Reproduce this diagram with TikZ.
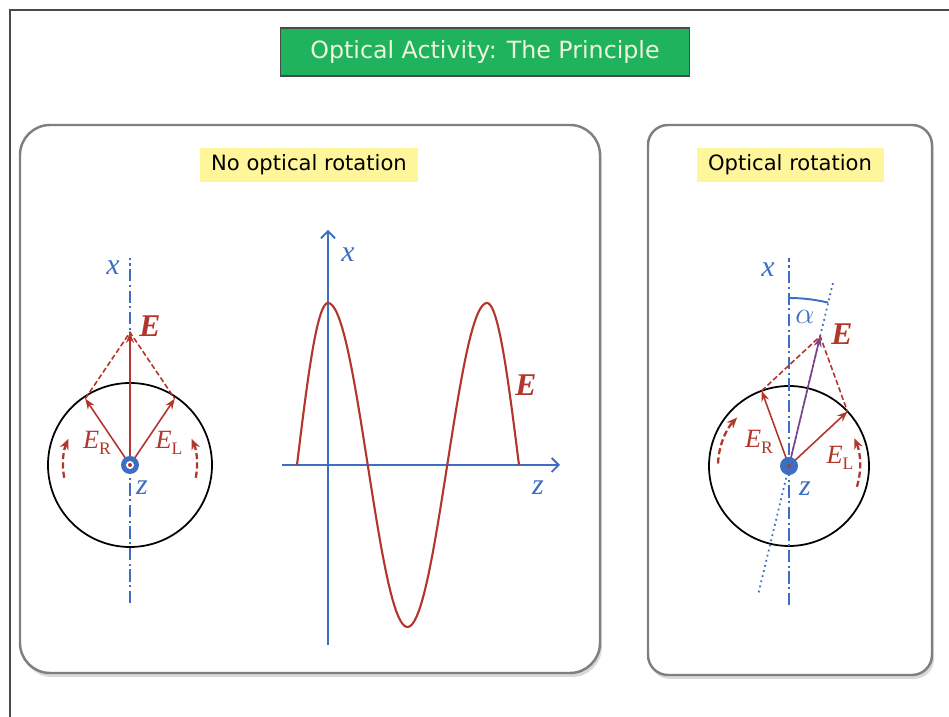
\documentclass[tikz,border=0pt]{standalone}
\usepackage{fontspec}
\setmainfont{DejaVu Sans}
\newfontfamily\symfont{Liberation Serif}
\usetikzlibrary{arrows.meta,calc}
\definecolor{OptGreen}{HTML}{1EB35C}
\definecolor{OptCream}{HTML}{EEF4DC}
\definecolor{OptDark}{HTML}{4A4A4A}
\definecolor{OptGray}{HTML}{7F7F7F}
\definecolor{OptYellow}{HTML}{FFF59A}
\definecolor{OptRed}{HTML}{B2362C}
\definecolor{OptBlue}{HTML}{3C6EC4}
\definecolor{OptPurple}{HTML}{7B3F8C}
\newcommand{\compsub}[2]{\textit{#1}\raisebox{-0.45ex}{\fontsize{10}{10}\selectfont #2}}

\begin{document}
\begin{tikzpicture}[x=0.2mm, y=0.2mm,
  panel/.style={draw=OptGray, fill=white, line width=1.4pt, rounded corners=#1},
  tag/.style={fill=OptYellow, inner sep=0pt, minimum height=6.8mm,
              font=\fontsize{12}{14}\selectfont},
  axis/.style={draw=OptBlue, line width=1.1pt, -{Straight Barb[length=4pt,width=8pt]}},
  beam/.style={draw=OptBlue, line width=1pt, dash pattern=on 7pt off 2pt on 1.2pt off 2pt},
  tilt/.style={draw=OptBlue, line width=1pt, dotted},
  vec/.style={draw=OptRed, line width=0.9pt, -{Stealth[length=6pt,width=4.5pt]}},
  sumline/.style={draw=OptRed, line width=0.9pt, dash pattern=on 3pt off 1.5pt},
  spin/.style={draw=OptRed, line width=1.3pt, dash pattern=on 3.5pt off 1.8pt,
               -{Stealth[length=6pt,width=5pt]}},
  wave/.style={draw=OptRed, line width=1.2pt},
  sym/.style={text=OptBlue, font=\symfont\itshape\fontsize{17}{17}\selectfont, inner sep=0pt},
  field/.style={text=OptRed, font=\symfont\bfseries\itshape\fontsize{18}{18}\selectfont, inner sep=0pt},
  comp/.style={text=OptRed, font=\symfont\fontsize{15}{15}\selectfont, inner sep=0pt}]
\useasboundingbox (0,0) rectangle (949,717);
%% page frame, cut at the right and bottom
\draw[OptDark, line width=0.8pt] (10,0) -- (10,707) -- (949,707);
\node[draw=OptDark, line width=1pt, fill=OptGreen, text=OptCream, minimum width=81.8mm,
      minimum height=9.6mm, font=\fontsize{13.5}{15}\selectfont] (title) at (485,665)
      {Optical Activity: The Principle};
%% panels with a soft shadow
\fill[black!15, rounded corners=6mm] (22,40) rectangle (602,588);
\draw[panel=6mm] (20,44) rectangle (600,592);
\fill[black!15, rounded corners=4mm] (650,38) rectangle (934,588);
\draw[panel=4mm] (648,42) rectangle (932,592);
\node[tag, minimum width=43.6mm] (lblNo)  at (309,552) {No optical rotation};
\node[tag, minimum width=37.4mm] (lblRot) at (790,552) {Optical rotation};

%% left: circular components add up along x
\coordinate (lO) at (130,252);
\coordinate (lR) at ($(lO)+(124:80)$);
\coordinate (lL) at ($(lO)+(56:80)$);
\coordinate (lE) at ($(lR)+(lL)-(lO)$);
\draw[black, line width=1pt] (lO) circle (82);
\coordinate (lTop) at (130,459);
\coordinate (lBot) at (130,114);
\draw[beam] (lBot) -- (lTop);
\draw[sumline] (lR) -- (lE) -- (lL);
\draw[vec] (lO) -- (lR);
\draw[vec] (lO) -- (lL);
\draw[vec] (lO) -- (lE);
\draw[spin] ($(lO)+(191:67)$) arc[start angle=191, end angle=157, radius=67];
\draw[spin] ($(lO)+(-11:67)$) arc[start angle=-11, end angle=23, radius=67];
\fill[OptBlue] (lO) circle (9);
\fill[white] (lO) circle (4);
\fill[OptRed] (lO) circle (2);
\node[sym] (lx) at (113,449) {x};
\node[sym] (lz) at (142,229) {z};
\node[field] (lEl) at (150,391) {E};
\node[comp] (lRl) at (97,274) {\compsub{E}{R}};
\node[comp] (lLl) at (169,274) {\compsub{E}{L}};

%% middle: linearly polarised wave
\coordinate (wO) at (328,252);
\coordinate (wTop) at (328,487);
\coordinate (wBot) at (328,72);
\coordinate (wL) at (282,252);
\coordinate (wR) at (560,252);
\draw[axis] (wBot) -- (wTop);
\draw[axis] (wL) -- (wR);
\draw[wave] plot[domain=-31:0, samples=25] ({328+\x}, {252+162*cos(2.9032*\x)})
  -- plot[domain=0:159, samples=80] ({328+\x}, {252+162*cos(2.2642*\x)})
  -- plot[domain=0:32, samples=25] ({487+\x}, {252+162*cos(2.8125*\x)});
\node[sym] (wx) at (348,462) {x};
\node[sym] (wz) at (538,229) {z};
\node[field] (wE) at (526,332) {E};

%% right: components out of phase turn E by alpha
\coordinate (rO) at (789,251);
\coordinate (rR) at ($(rO)+(110:80)$);
\coordinate (rL) at ($(rO)+(43:80)$);
\coordinate (rE) at ($(rR)+(rL)-(rO)$);
\draw[black, line width=1pt] (rO) circle (80);
\coordinate (rTop) at (789,459);
\coordinate (rBot) at (789,112);
\draw[beam] (rBot) -- (rTop);
\coordinate (tTop) at ($(rO)+(76.5:190)$);
\coordinate (tBot) at ($(rO)+(256.5:130)$);
\draw[tilt] (tBot) -- (tTop);
\draw[OptBlue, line width=1.1pt] ($(rO)+(90:168)$) arc[start angle=90, end angle=76.5, radius=168];
\draw[sumline] (rR) -- (rE) -- (rL);
\draw[vec] (rO) -- (rR);
\draw[vec] (rO) -- (rL);
\draw[vec, draw=OptPurple] (rO) -- (rE);
\draw[spin] ($(rO)+(178:71)$) arc[start angle=178, end angle=137, radius=71];
\draw[spin] ($(rO)+(-17:71)$) arc[start angle=-17, end angle=23, radius=71];
\fill[OptBlue] (rO) circle (9);
\fill[OptRed!70!OptBlue] (rO) circle (2.2);
\node[sym] (rx) at (768,447) {x};
\node[sym] (rz) at (805,228) {z};
\node[sym] (ra) at (805,400) {$\alpha$};
\node[field] (rEl) at (842,383) {E};
\node[comp] (rRl) at (759,275) {\compsub{E}{R}};
\node[comp] (rLl) at (840,259) {\compsub{E}{L}};
\end{tikzpicture}
\end{document}
